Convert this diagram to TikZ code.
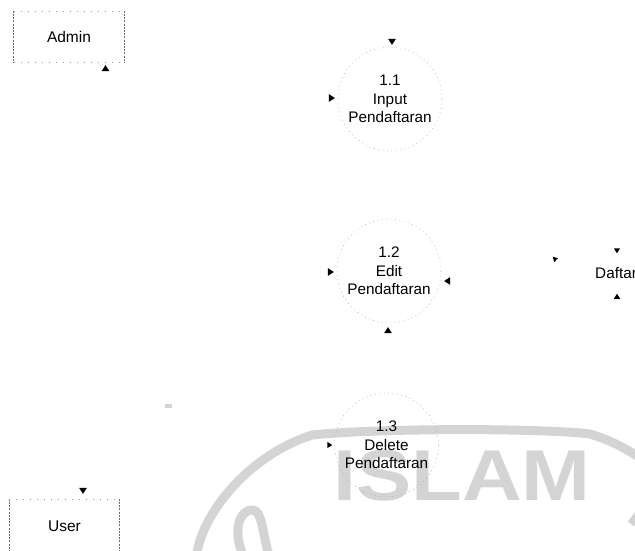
\documentclass[tikz,border=0pt]{standalone}
\usepackage{fontspec}
\setmainfont{Liberation Sans}
\usetikzlibrary{shapes.geometric}
\definecolor{wm}{gray}{0.83}
\definecolor{edge}{gray}{0.6}
\tikzset{
  x=1pt,y=-1pt,
  proc/.style={circle,draw=edge,line width=0.45pt,dash pattern=on 0.8pt off 3.6pt,minimum size=104pt,inner sep=0pt,align=center,font=\fontsize{15.3}{18.7}\selectfont},
  ent/.style={minimum width=110pt,minimum height=51pt,inner sep=0pt,font=\fontsize{15.5}{18}\selectfont},
  vside/.style={draw=edge!70!black,line width=0.7pt,dash pattern=on 2pt off 1.2pt},
  hside/.style={draw=edge,line width=0.5pt,dash pattern=on 1pt off 6pt},
  tip/.style={isosceles triangle,isosceles triangle apex angle=65,fill=black,inner sep=0pt,minimum height=6pt,minimum width=6pt,draw=none}
}
\begin{document}
\begin{tikzpicture}
\useasboundingbox (0,0) rectangle (635,550);
\clip (0,0) rectangle (635,550);
% watermark
\draw[wm,line width=9pt] (197,552) .. controls (205,510) and (250,455) .. (312,435) .. controls (380,428) and (540,428) .. (590,434) .. controls (610,440) and (625,448) .. (640,458);
\draw[wm,line width=9pt] (243,555) .. controls (232,530) and (240,510) .. (252,510) .. controls (262,510) and (262,530) .. (268,552);
\draw[wm,line width=8pt] (640,512) -- (631,524);
\draw[wm,line width=4pt] (165,406) -- (172,406);
\node[wm,inner sep=0pt,anchor=base west,font=\fontsize{72}{72}\selectfont\bfseries,xscale=1.15] (islam) at (333,500) {ISLAM};
% entities
\node[ent] (admin) at (69,36.5) {Admin};
\draw[vside] (admin.north west) -- (admin.south west);
\draw[vside] (admin.north east) -- (admin.south east);
\draw[hside] (admin.north west) -- (admin.north east);
\draw[hside] (admin.south west) -- (admin.south east);
\node[ent,minimum height=70pt] (user) at (64.5,534) {\raisebox{15pt}{User}};
\draw[vside] (user.north west) -- (user.south west);
\draw[vside] (user.north east) -- (user.south east);
\draw[hside] (user.north west) -- (user.north east);
% processes
\node[proc] (p1) at (390,99) {1.1\\Input\\Pendaftaran};
\node[proc] (p2) at (389,271) {1.2\\Edit\\Pendaftaran};
\node[proc] (p3) at (386.5,445) {1.3\\Delete\\Pendaftaran};
\node[anchor=west,inner sep=0pt,font=\fontsize{15.3}{18}\selectfont] (daftar) at (595,273) {Daftar};
% arrow tips
\node[tip,rotate=270] (a1) at (392,41) {};
\node[tip,rotate=0] (a2) at (331,98) {};
\node[tip,rotate=0] (a3) at (330,272) {};
\node[tip,rotate=180] (a4) at (448,281) {};
\node[tip,rotate=90] (a5) at (388,331) {};
\node[tip,rotate=15,minimum height=4.5pt,minimum width=4.5pt] (a6) at (555,259) {};
\node[tip,rotate=270,minimum height=5pt,minimum width=5pt] (a7) at (617,250) {};
\node[tip,rotate=90,minimum height=5pt,minimum width=5pt] (a8) at (617,297) {};
\node[tip,rotate=0,minimum height=5pt,minimum width=5pt] (a9) at (329,445) {};
\node[tip,rotate=270] (a10) at (83,490) {};
\node[tip,rotate=90] (a11) at (105.5,69) {};
\end{tikzpicture}
\end{document}
